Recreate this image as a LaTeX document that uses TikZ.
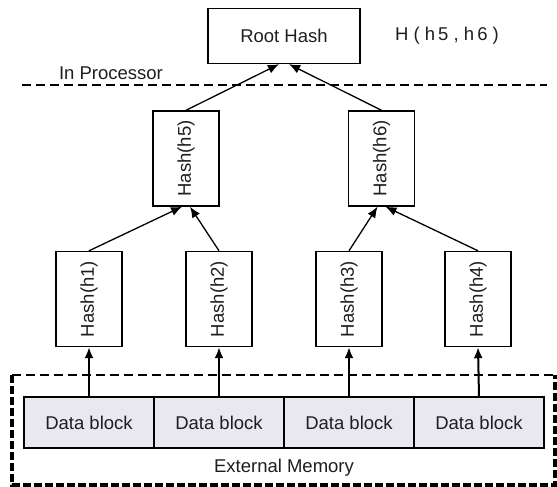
\documentclass[tikz,border=0pt]{standalone}
\usepackage{fontspec}
\setmainfont{Liberation Sans}
\usepackage{graphicx}
\usetikzlibrary{arrows.meta}
\definecolor{blockfill}{RGB}{233,232,240}
\definecolor{inkgray}{RGB}{30,30,30}

\begin{document}
\begin{tikzpicture}[x=1pt,y=1pt]
\tikzstyle{every node}+=[inner sep=0pt, text=inkgray, font=\fontsize{18.5}{20}\selectfont]
\tikzstyle{hashbox}=[draw, line width=1.4pt, minimum width=66pt, minimum height=95pt]
\tikzstyle{datablock}=[draw, line width=1.4pt, fill=blockfill, minimum width=130pt, minimum height=51pt]
\tikzstyle{link}=[line width=1.3pt, -{Latex[length=11pt,width=9pt]}]
\tikzstyle{feed}=[line width=2pt, -{Latex[length=11pt,width=9pt]}]
\useasboundingbox (0,0) rectangle (557,-487);
\node [draw, line width=1.4pt, minimum width=152pt, minimum height=55pt] (root) at (284,-36) {Root Hash};
\node (hval) at (447,-36) {H ( h\,5 , h\,6 )};
\node (proc) at (111,-73) {In Processor};
\draw [line width=2.5pt, dash pattern=on 9pt off 5pt] (22,-85) -- (547,-85);
\node [hashbox] (h5) at (186,-158.5) {\rotatebox{90}{Hash(h5)}};
\node [hashbox] (h6) at (381.5,-158.5) {\rotatebox{90}{Hash(h6)}};
\node [hashbox] (h1) at (89,-299) {\rotatebox{90}{Hash(h1)}};
\node [hashbox] (h2) at (219,-299) {\rotatebox{90}{Hash(h2)}};
\node [hashbox] (h3) at (349,-299) {\rotatebox{90}{Hash(h3)}};
\node [hashbox] (h4) at (478,-299) {\rotatebox{90}{Hash(h4)}};
\node [datablock] (d1) at (89,-422.5) {Data block};
\node [datablock] (d2) at (219,-422.5) {Data block};
\node [datablock] (d3) at (349,-422.5) {Data block};
\node [datablock] (d4) at (479,-422.5) {Data block};
\node (extmem) at (284,-468) {External Memory};
% external memory frame
\draw [line width=2.5pt, dash pattern=on 9pt off 5pt] (12,-375) -- (555,-375);
\draw [line width=3.5pt, dash pattern=on 8pt off 3pt] (12,-375) -- (12,-485) -- (555,-485) -- (555,-375);
% tree links
\draw [link] (h1.north) -- ([xshift=-4pt]h5.south);
\draw [link] (h2.north) -- ([xshift=4pt]h5.south);
\draw [link] (h3.north) -- ([xshift=-4pt]h6.south);
\draw [link] (h4.north) -- ([xshift=4pt]h6.south);
\draw [link] (h5.north) -- ([xshift=-5pt]root.south);
\draw [link] (h6.north) -- ([xshift=5pt]root.south);
\draw [feed] (d1.north) -- (h1.south);
\draw [feed] (d2.north) -- (h2.south);
\draw [feed] (d3.north) -- (h3.south);
\draw [feed] (d4.north) -- (h4.south);
\end{tikzpicture}
\end{document}
